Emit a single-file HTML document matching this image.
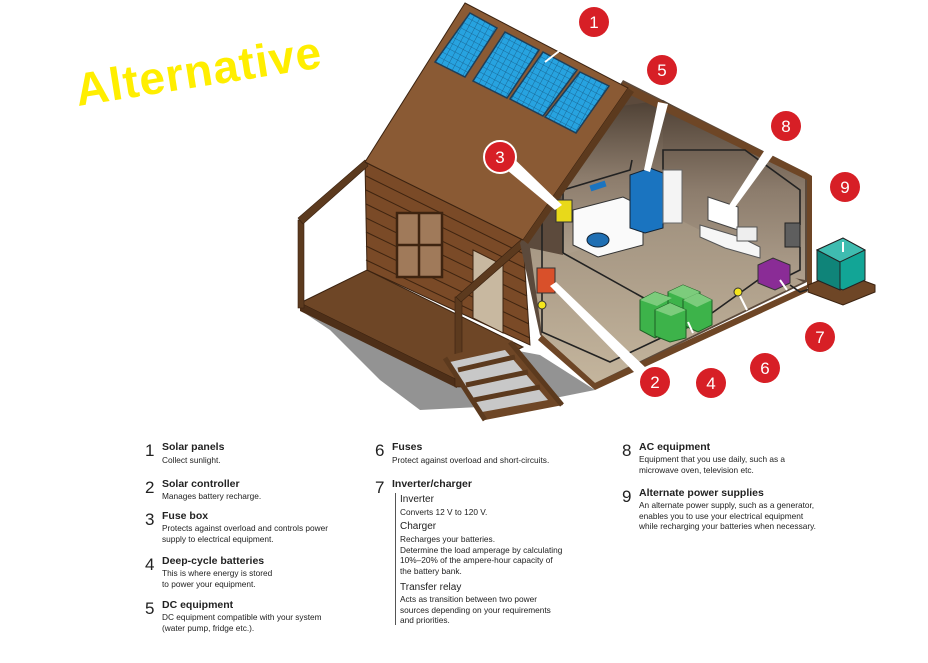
<!DOCTYPE html>
<html><head><meta charset="utf-8"><style>
body{margin:0;background:#fff;width:928px;height:663px;overflow:hidden;position:relative;font-family:"Liberation Sans",sans-serif}
.n{position:absolute;font-size:17px;color:#222}
.t{position:absolute;font-size:10.5px;font-weight:bold;color:#222;white-space:nowrap}
.d{position:absolute;font-size:8.3px;color:#222;line-height:10.5px;white-space:nowrap}
.s{position:absolute;font-size:10px;color:#222;white-space:nowrap}
</style></head><body>
<svg width="928" height="663" style="position:absolute;left:0;top:0">
<defs>
<pattern id="grid" width="6" height="6" patternUnits="userSpaceOnUse" patternTransform="rotate(28)">
<rect width="6" height="6" fill="#27a3e0"/><path d="M0 0H6M0 0V6" stroke="#175a85" stroke-width="0.8"/></pattern>
<linearGradient id="wall" x1="0" y1="0" x2="0" y2="1"><stop offset="0" stop-color="#4e4034"/><stop offset="0.5" stop-color="#8c7c6c"/><stop offset="1" stop-color="#ae9f8c"/></linearGradient>
<linearGradient id="floor" x1="0" y1="0" x2="0" y2="1"><stop offset="0" stop-color="#a29380"/><stop offset="1" stop-color="#c4b59d"/></linearGradient>
</defs>
<!-- shadow -->
<polygon points="300,310 330,330 380,380 420,410 520,405 595,390 540,355 460,340" fill="#939393"/>
<!-- porch floor -->
<polygon points="300,303 367,270 523,347 457,380" fill="#6e4626" stroke="#3a2210"/>
<polygon points="300,303 457,380 457,388 300,311" fill="#4e2f18"/>
<!-- log wall -->
<polygon points="365,162 523,240 530,345 367,270" fill="#7a4a27" stroke="#3a2210"/>
<g stroke="#3e2410" stroke-width="1">
<line x1="366" y1="176" x2="524" y2="254"/><line x1="366" y1="190" x2="525" y2="268"/><line x1="366" y1="204" x2="526" y2="282"/><line x1="366" y1="218" x2="527" y2="296"/><line x1="366" y1="232" x2="528" y2="310"/><line x1="366" y1="246" x2="529" y2="324"/><line x1="366" y1="260" x2="530" y2="338"/>
</g>
<rect x="397" y="213" width="45" height="64" fill="#a07a5a" stroke="#3e2410" stroke-width="2.5"/>
<line x1="419" y1="213" x2="419" y2="277" stroke="#3e2410" stroke-width="2.5"/>
<line x1="397" y1="245" x2="442" y2="245" stroke="#3e2410" stroke-width="2.5"/>
<polygon points="473,250 503,265 503,333 473,318" fill="#c8b8a0" stroke="#3e2410"/>
<!-- porch posts & roof edges -->
<rect x="298" y="220" width="6" height="88" fill="#5c3a1e" stroke="#3a2210" stroke-width="0.6"/>
<rect x="455" y="297" width="7" height="90" fill="#5c3a1e" stroke="#3a2210" stroke-width="0.6"/>
<polygon points="365,160 368,166 303,224 298,218" fill="#5c3a1e" stroke="#3a2210" stroke-width="0.6"/>
<polygon points="523,238 527,244 461,302 456,297" fill="#5c3a1e" stroke="#3a2210" stroke-width="0.6"/>
<!-- stairs -->
<polygon points="443,357 510,340 563,405 485,420" fill="#6e4626"/>
<polygon points="450,362 505,350 548,400 482,412" fill="#c8c8c8"/>
<g stroke="#5c3a1e" stroke-width="5"><line x1="458" y1="370" x2="515" y2="357"/><line x1="466" y1="385" x2="528" y2="372"/><line x1="474" y1="400" x2="540" y2="387"/></g>
<g stroke="#5c3a1e" stroke-width="5"><line x1="445" y1="358" x2="485" y2="420"/><line x1="510" y1="342" x2="562" y2="405"/></g>
<!-- room -->
<polygon points="520,243 623,80 807,173 807,282 595,385 540,335" fill="#5c4a3c"/>
<polygon points="560,115 663,100 663,253 563,255" fill="url(#wall)"/>
<polygon points="663,100 805,178 805,280 663,253" fill="url(#wall)"/>
<polygon points="530,248 563,255 680,220 803,282 595,383 542,335" fill="url(#floor)"/>
<polygon points="623,82 807,173 807,180 620,90" fill="#6e4626"/>
<polygon points="807,173 812,176 812,284 807,288" fill="#6e4626"/>
<polygon points="542,335 595,383 807,285 807,292 595,390 538,340" fill="#6e4626"/>
<!-- wires -->
<g stroke="#222" stroke-width="1.6" fill="none">
<polyline points="542,200 542,332 610,362 663,337"/>
<polyline points="563,253 660,307"/>
<polyline points="563,253 563,190 630,170 632,160"/>
<polyline points="663,170 663,150 745,150 800,190 800,225"/>
<polyline points="712,313 758,280"/>
<polyline points="800,247 800,270 790,275"/>
<polyline points="790,285 800,292 830,283"/>
</g>
<!-- roof -->
<polygon points="465,3 628,88 523,240 365,162" fill="#8a5a34" stroke="#3a2210"/>
<polygon points="628,88 634,92 528,244 523,240" fill="#5c3a1e"/>
<g stroke="#1d3f5a" stroke-width="1.5">
<polygon points="470,13 497,28 465,77 435,62" fill="url(#grid)"/>
<polygon points="505,32 539,50 507,98 473,81" fill="url(#grid)"/>
<polygon points="543,52 577,70 543,116 510,99" fill="url(#grid)"/>
<polygon points="580,72 609,86 576,133 545,117" fill="url(#grid)"/>
</g>
<!-- equipment -->
<polygon points="573,210 623,197 643,207 643,245 598,257 573,245" fill="#fafafa" stroke="#333"/>
<ellipse cx="598" cy="240" rx="11" ry="7" fill="#1f6fb3" stroke="#123"/>
<polygon points="630,175 650,168 663,173 663,228 645,233 630,228" fill="#1a74c0" stroke="#123"/>
<rect x="663" y="170" width="19" height="53" fill="#f4f4f4" stroke="#666"/>
<rect x="590" y="183" width="16" height="6" fill="#1a74c0" transform="rotate(-18 598 186)"/>
<polygon points="708,197 738,207 738,230 708,220" fill="#fff" stroke="#444"/>
<polygon points="700,225 740,237 760,247 760,258 725,248 700,237" fill="#f6f6f6" stroke="#555"/>
<rect x="737" y="227" width="20" height="14" fill="#eee" stroke="#555"/>
<rect x="556" y="200" width="16" height="22" fill="#e8d91a" stroke="#333"/>
<rect x="537" y="268" width="18" height="25" fill="#d9502a" stroke="#333"/>
<rect x="785" y="223" width="15" height="24" fill="#5e5e5e" stroke="#222"/>
<polygon points="758,265 773,258 790,265 790,283 775,290 758,283" fill="#8a2c96" stroke="#333"/>
<g fill="#3db34a" stroke="#1d5f24"><polygon points="640,300 655,292 672,298 672,330 655,338 640,330"/><polygon points="668,292 683,285 700,292 700,322 683,330 668,322"/><polygon points="683,300 698,293 712,300 712,325 698,332 683,325"/><polygon points="655,310 670,303 686,310 686,338 670,342 655,336"/></g>
<g fill="#7ccc7c"><polygon points="640,300 655,292 672,298 657,306"/><polygon points="668,292 683,285 700,292 685,299"/><polygon points="683,300 698,293 712,300 697,307"/><polygon points="655,310 670,303 686,310 671,316"/></g>
<polygon points="808,285 840,272 875,285 875,292 843,305 808,292" fill="#6e4626" stroke="#3a2210"/>
<polygon points="817,250 843,238 865,250 865,280 843,290 817,280" fill="#12a596" stroke="#222"/>
<polygon points="817,250 843,238 865,250 840,262" fill="#3fbcb0" stroke="#222"/>
<polygon points="817,250 840,262 840,290 817,280" fill="#0f8479" stroke="#222"/>
<circle cx="542" cy="305" r="4" fill="#f5e61c" stroke="#333"/><circle cx="738" cy="292" r="4" fill="#f5e61c" stroke="#333"/>
<!-- pointers -->
<g fill="#fff"><polygon points="658,102 668,104 650,172 644,170"/><polygon points="766,148 774,154 733,210 728,207"/><polygon points="495,160 505,150 562,205 555,210"/><polygon points="550,286 556,282 646,368 636,374"/></g>
<g stroke="#fff" stroke-width="2"><line x1="580" y1="35" x2="545" y2="62"/><line x1="693" y1="333" x2="688" y2="322"/><line x1="747" y1="310" x2="740" y2="296"/><line x1="787" y1="290" x2="780" y2="280"/><line x1="843" y1="242" x2="843" y2="252"/></g>
<!-- circles -->
<g fill="#d71f26"><circle cx="594" cy="22" r="15"/><circle cx="662" cy="70" r="15"/><circle cx="786" cy="126" r="15"/><circle cx="500" cy="157" r="16" stroke="#fff" stroke-width="2"/><circle cx="845" cy="187" r="15"/><circle cx="820" cy="337" r="15"/><circle cx="765" cy="368" r="15"/><circle cx="711" cy="383" r="15"/><circle cx="655" cy="382" r="15"/></g>
<g fill="#fff" font-family="Liberation Sans,sans-serif" font-size="17" text-anchor="middle"><text x="594" y="28">1</text><text x="662" y="76">5</text><text x="786" y="132">8</text><text x="500" y="163">3</text><text x="845" y="193">9</text><text x="820" y="343">7</text><text x="765" y="374">6</text><text x="711" y="389">4</text><text x="655" y="388">2</text></g>
<text x="78" y="106" transform="rotate(-9 78 106)" fill="#ffee00" font-family="Liberation Sans,sans-serif" font-size="46" font-weight="bold" textLength="248">Alternative</text>
</svg>
<div class="n" style="left:145px;top:441px">1</div><div class="t" style="left:162px;top:441px">Solar panels</div><div class="d" style="left:162px;top:455px">Collect sunlight.</div>
<div class="n" style="left:145px;top:478px">2</div><div class="t" style="left:162px;top:478px">Solar controller</div><div class="d" style="left:162px;top:491px">Manages battery recharge.</div>
<div class="n" style="left:145px;top:510px">3</div><div class="t" style="left:162px;top:510px">Fuse box</div><div class="d" style="left:162px;top:523px">Protects against overload and controls power<br>supply to electrical equipment.</div>
<div class="n" style="left:145px;top:555px">4</div><div class="t" style="left:162px;top:555px">Deep-cycle batteries</div><div class="d" style="left:162px;top:568px">This is where energy is stored<br>to power your equipment.</div>
<div class="n" style="left:145px;top:599px">5</div><div class="t" style="left:162px;top:599px">DC equipment</div><div class="d" style="left:162px;top:612px">DC equipment compatible with your system<br>(water pump, fridge etc.).</div>
<div class="n" style="left:375px;top:441px">6</div><div class="t" style="left:392px;top:441px">Fuses</div><div class="d" style="left:392px;top:455px">Protect against overload and short-circuits.</div>
<div class="n" style="left:375px;top:478px">7</div><div class="t" style="left:392px;top:478px">Inverter/charger</div>
<div style="position:absolute;left:395px;top:493px;width:1px;height:132px;background:#555"></div>
<div class="s" style="left:400px;top:494px">Inverter</div><div class="d" style="left:400px;top:507px">Converts 12 V to 120 V.</div>
<div class="s" style="left:400px;top:521px">Charger</div><div class="d" style="left:400px;top:534px">Recharges your batteries.<br>Determine the load amperage by calculating<br>10%–20% of the ampere-hour capacity of<br>the battery bank.</div>
<div class="s" style="left:400px;top:582px">Transfer relay</div><div class="d" style="left:400px;top:594px">Acts as transition between two power<br>sources depending on your requirements<br>and priorities.</div>
<div class="n" style="left:622px;top:441px">8</div><div class="t" style="left:639px;top:441px">AC equipment</div><div class="d" style="left:639px;top:454px">Equipment that you use daily, such as a<br>microwave oven, television etc.</div>
<div class="n" style="left:622px;top:487px">9</div><div class="t" style="left:639px;top:487px">Alternate power supplies</div><div class="d" style="left:639px;top:500px">An alternate power supply, such as a generator,<br>enables you to use your electrical equipment<br>while recharging your batteries when necessary.</div>
</body></html>
